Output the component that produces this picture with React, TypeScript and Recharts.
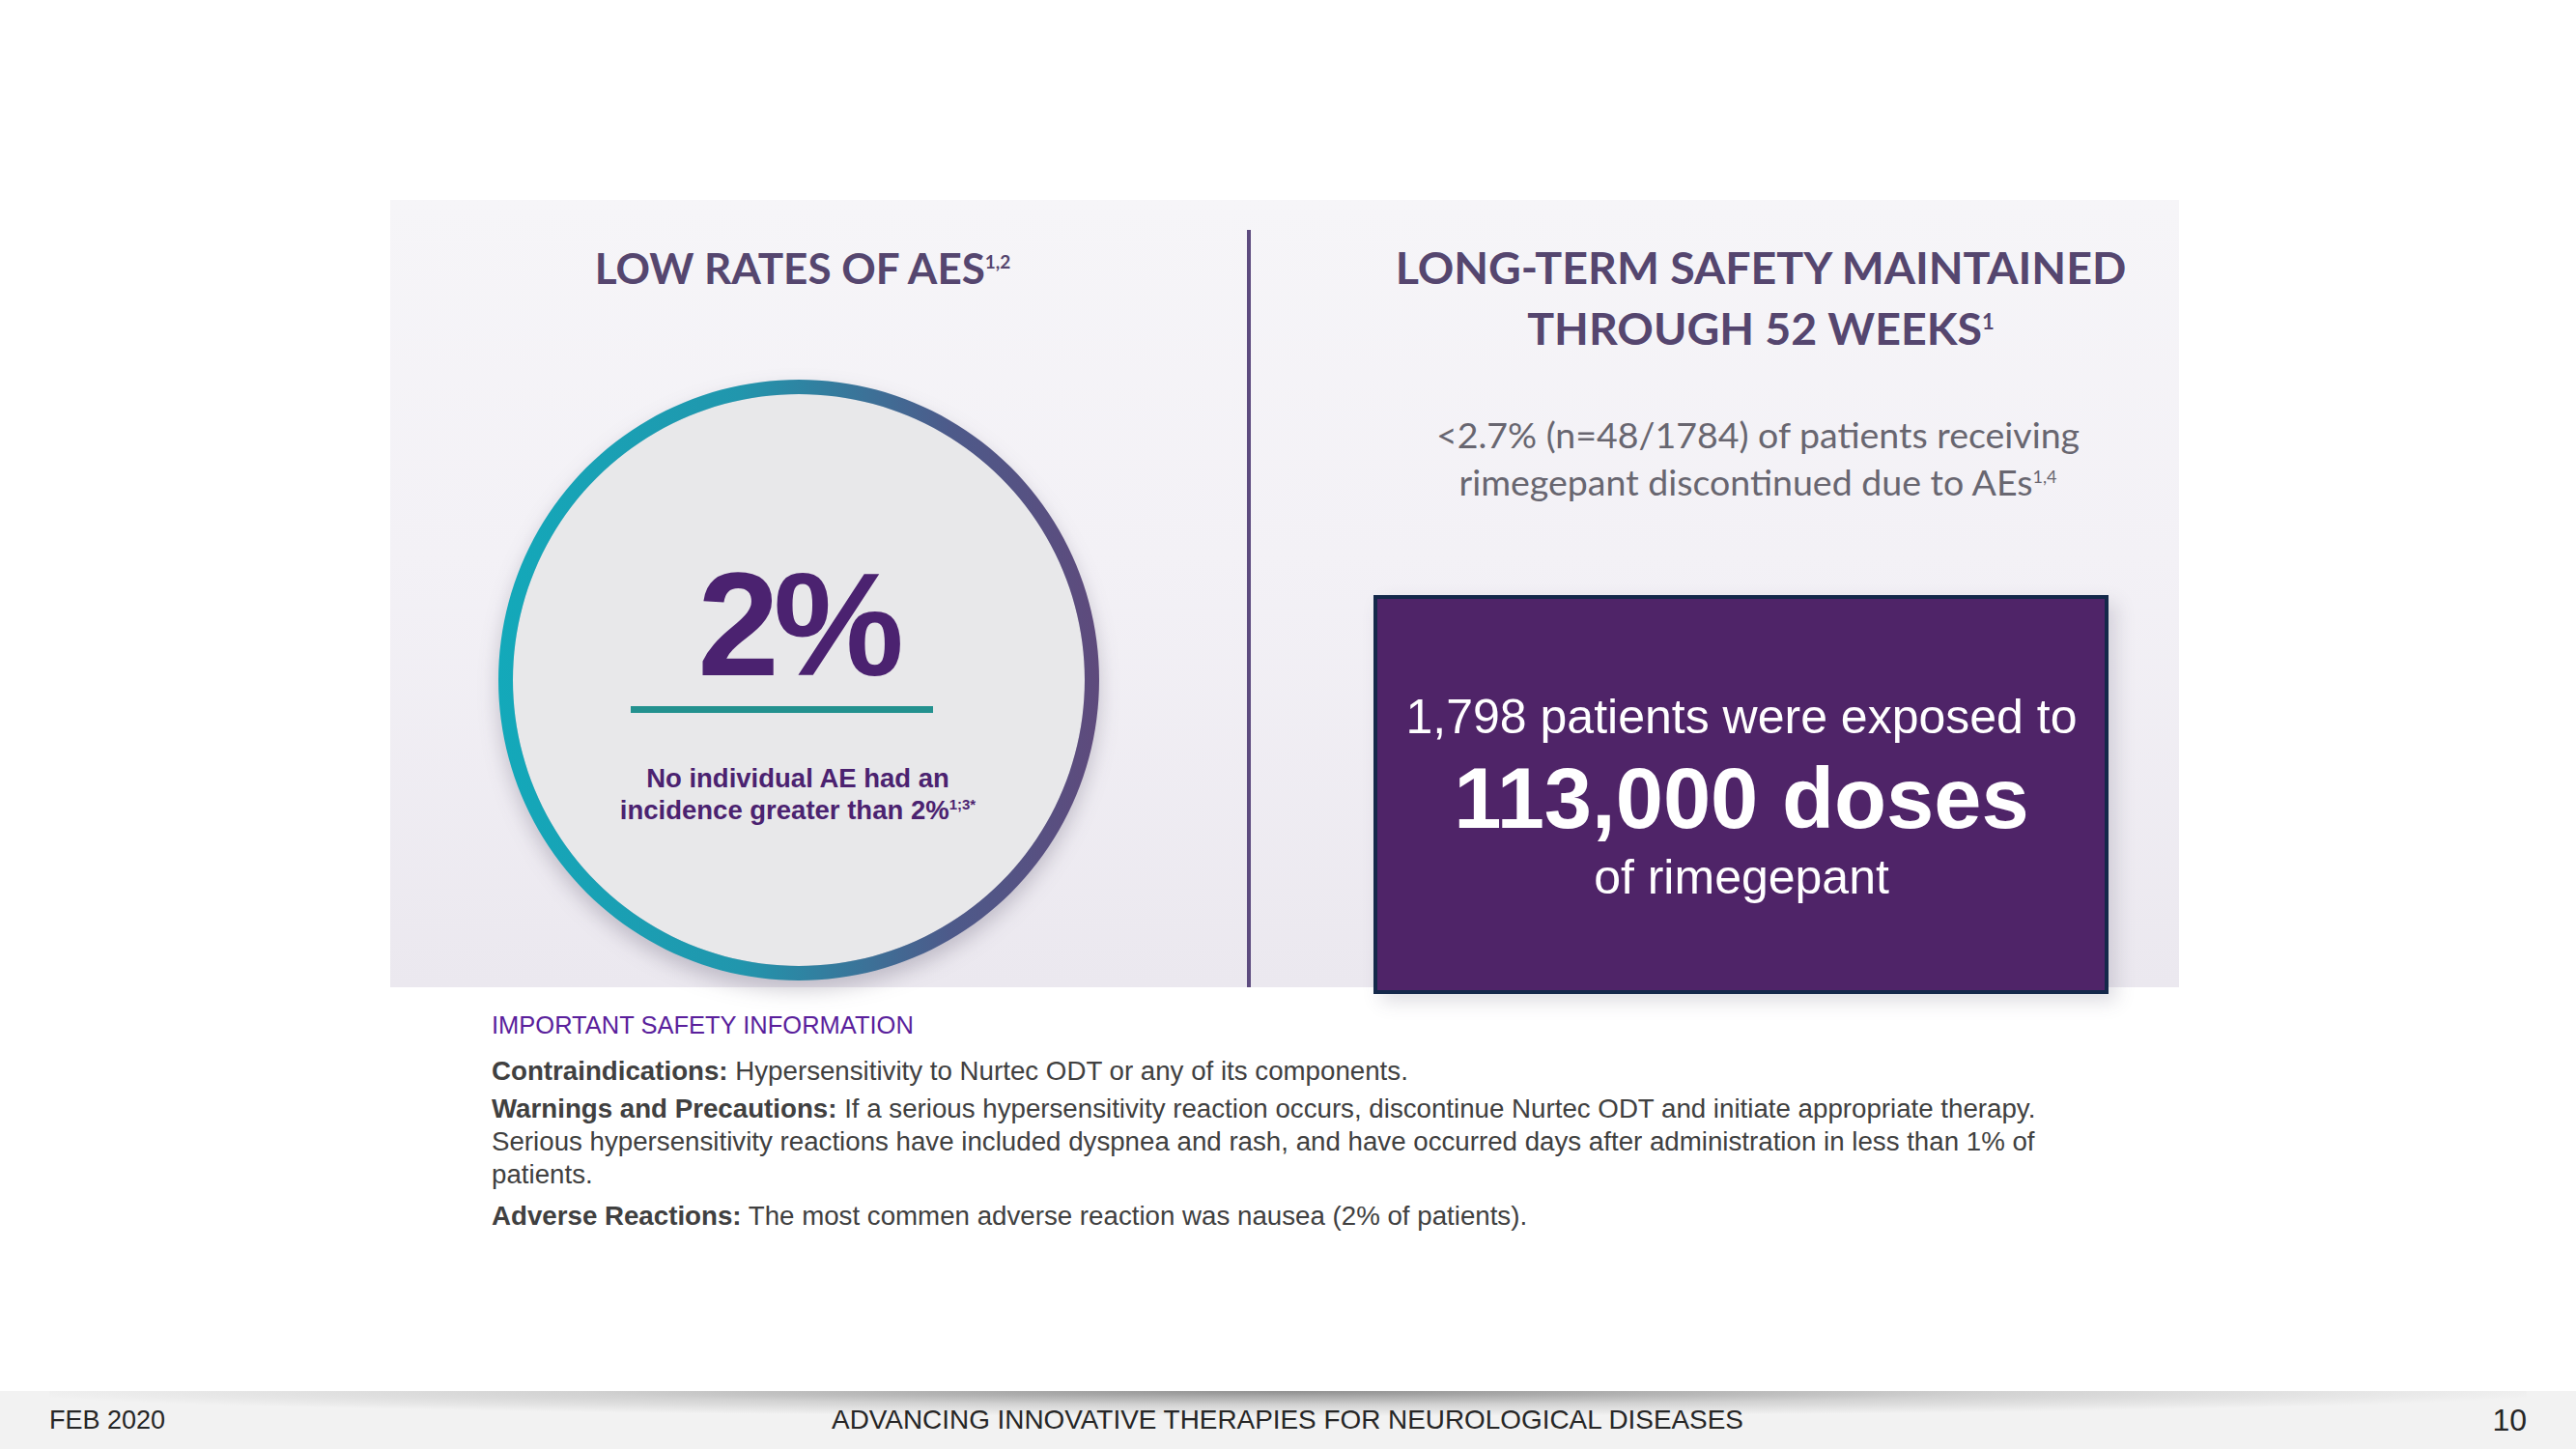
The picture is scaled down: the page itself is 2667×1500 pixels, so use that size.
import React from 'react';
import { PieChart, Pie, Cell } from 'recharts';

// ring around the headline figure: one full slice, drawn as an annulus
const ringSlices = [{ name: 'Patients', value: 100 }];
const discSlices = [{ name: 'Disc', value: 100 }];

const headlineValue = '2%';
const headlineNote = ['No individual AE had an', 'incidence greater than 2%'];
const leftTitle = 'LOW RATES OF AES';
const rightTitle = ['LONG-TERM SAFETY MAINTAINED', 'THROUGH 52 WEEKS'];
const rightSub = ['<2.7% (n=48/1784) of patients receiving', 'rimegepant discontinued due to AEs'];
const exposureLines = ['1,798 patients were exposed to', '113,000 doses', 'of rimegepant'];
const footer = ['FEB 2020', 'ADVANCING INNOVATIVE THERAPIES FOR NEUROLOGICAL DISEASES', '10'];

const PURPLE = '#4b2270';
const TITLE = '#55466f';
const ARIAL = '"Liberation Sans", Arial, sans-serif';
const LATO = 'Lato, "Open Sans", sans-serif';

const abs = (left: number, top: number, extra: React.CSSProperties = {}): React.CSSProperties => ({
  position: 'absolute',
  left,
  top,
  ...extra,
});

const Centered: React.FC<{ cx: number; cy: number; size: number; style?: React.CSSProperties; children: React.ReactNode }> = ({
  cx,
  cy,
  size,
  style,
  children,
}) => (
  <div
    style={{
      position: 'absolute',
      left: cx - 800,
      top: cy - size * 0.6,
      width: 1600,
      textAlign: 'center',
      fontSize: size,
      lineHeight: `${size * 1.2}px`,
      whiteSpace: 'nowrap',
      ...style,
    }}
  >
    {children}
  </div>
);

export default function App() {
  const sup = (s: string, size: number) => (
    <span style={{ fontSize: size, verticalAlign: 'super', lineHeight: 0 }}>{s}</span>
  );

  return (
    <div style={{ position: 'absolute', left: 0, top: 0, width: 2667, height: 1500, background: '#ffffff', overflow: 'hidden' }}>
      {/* light panel */}
      <div
        style={abs(404, 207, {
          width: 1852,
          height: 815,
          background: 'linear-gradient(180deg, #f6f5f8 0%, #f3f1f6 45%, #ebe8ef 100%)',
        })}
      />
      {/* divider */}
      <div style={abs(1291, 238, { width: 4, height: 784, background: '#5d4b7f' })} />

      {/* left title */}
      <Centered cx={831} cy={277} size={44} style={{ fontFamily: LATO, fontWeight: 700, color: TITLE }}>
        {leftTitle}
        {sup('1,2', 19)}
      </Centered>

      {/* ring */}
      <div style={abs(472, 349, { width: 700, height: 700, filter: 'drop-shadow(0px 10px 10px rgba(60,50,80,0.25))' })}>
        <PieChart width={700} height={700}>
          <defs>
            <linearGradient id="ringGrad" x1="0" y1="0.5" x2="1" y2="0.5">
              <stop offset="0%" stopColor="#13a9ba" />
              <stop offset="40%" stopColor="#2196ad" />
              <stop offset="75%" stopColor="#4d5a8a" />
              <stop offset="100%" stopColor="#5e4a7c" />
            </linearGradient>
          </defs>
          <Pie
            data={discSlices}
            dataKey="value"
            cx={350}
            cy={350}
            innerRadius={0}
            outerRadius={296}
            stroke="none"
            isAnimationActive={false}
          >
            {discSlices.map((d, i) => (
              <Cell key={`d-${i}`} fill="#e8e8ea" />
            ))}
          </Pie>
          <Pie
            data={ringSlices}
            dataKey="value"
            cx={350}
            cy={350}
            innerRadius={296}
            outerRadius={311}
            startAngle={90}
            endAngle={-270}
            stroke="none"
            isAnimationActive={false}
          >
            {ringSlices.map((d, i) => (
              <Cell key={`r-${i}`} fill="url(#ringGrad)" />
            ))}
          </Pie>
        </PieChart>
      </div>

      {/* headline figure */}
      <Centered cx={826} cy={646} size={152} style={{ fontFamily: ARIAL, fontWeight: 700, color: PURPLE, letterSpacing: -6 }}>
        {headlineValue}
      </Centered>
      <div style={abs(653, 731, { width: 313, height: 7, background: '#23918f' })} />
      <Centered cx={826} cy={805} size={27.5} style={{ fontFamily: ARIAL, fontWeight: 700, color: PURPLE }}>
        {headlineNote[0]}
      </Centered>
      <Centered cx={826} cy={838} size={27.5} style={{ fontFamily: ARIAL, fontWeight: 700, color: PURPLE }}>
        {headlineNote[1]}
        {sup('1;3*', 15)}
      </Centered>

      {/* right title */}
      <Centered cx={1823} cy={277} size={46.5} style={{ fontFamily: LATO, fontWeight: 700, color: TITLE }}>
        {rightTitle[0]}
      </Centered>
      <Centered cx={1823} cy={340} size={46.5} style={{ fontFamily: LATO, fontWeight: 700, color: TITLE }}>
        {rightTitle[1]}
        {sup('1', 22)}
      </Centered>
      <Centered cx={1820} cy={449} size={37.5} style={{ fontFamily: LATO, color: '#686670' }}>
        {rightSub[0]}
      </Centered>
      <Centered cx={1820} cy={498} size={37.5} style={{ fontFamily: LATO, color: '#686670' }}>
        {rightSub[1]}
        {sup('1,4', 18)}
      </Centered>

      {/* exposure box */}
      <div
        style={abs(1422, 616, {
          width: 761,
          height: 413,
          boxSizing: 'border-box',
          background: '#4f2468',
          border: '4px solid #14284a',
          boxShadow: '8px 8px 18px rgba(80,70,100,0.18)',
        })}
      />
      <Centered cx={1803} cy={742} size={50} style={{ fontFamily: ARIAL, color: '#ffffff' }}>
        {exposureLines[0]}
      </Centered>
      <Centered cx={1803} cy={827} size={88.5} style={{ fontFamily: ARIAL, fontWeight: 700, color: '#ffffff' }}>
        {exposureLines[1]}
      </Centered>
      <Centered cx={1803} cy={908} size={50} style={{ fontFamily: ARIAL, color: '#ffffff' }}>
        {exposureLines[2]}
      </Centered>

      {/* safety information */}
      <div style={abs(509, 1046, { fontFamily: ARIAL, fontSize: 25.5, lineHeight: '30px', color: '#5a1f9c', whiteSpace: 'nowrap' })}>
        IMPORTANT SAFETY INFORMATION
      </div>
      <div style={abs(509, 1092, { fontFamily: ARIAL, fontSize: 27.7, color: '#404040', whiteSpace: 'nowrap' })}>
        <div style={{ lineHeight: '34px', marginBottom: 5 }}>
          <b>Contraindications:</b> Hypersensitivity to Nurtec ODT or any of its components.
        </div>
        <div style={{ lineHeight: '34px' }}>
          <b>Warnings and Precautions:</b> If a serious hypersensitivity reaction occurs, discontinue Nurtec ODT and initiate appropriate therapy.
        </div>
        <div style={{ lineHeight: '34px' }}>
          Serious hypersensitivity reactions have included dyspnea and rash, and have occurred days after administration in less than 1% of
        </div>
        <div style={{ lineHeight: '34px', marginBottom: 9 }}>patients.</div>
        <div style={{ lineHeight: '34px' }}>
          <b>Adverse Reactions:</b> The most commen adverse reaction was nausea (2% of patients).
        </div>
      </div>

      {/* footer */}
      <div style={abs(0, 1440, { width: 2667, height: 60, background: '#f2f2f2' })} />
      <div
        style={abs(51, 1440, {
          width: 2565,
          height: 26,
          background: 'radial-gradient(ellipse 52% 100% at 50% 0%, rgba(110,110,110,0.75) 0%, rgba(170,170,170,0.45) 55%, rgba(242,242,242,0) 100%)',
        })}
      />
      <div style={abs(51, 1455, { fontFamily: ARIAL, fontSize: 27, lineHeight: '30px', color: '#262626' })}>{footer[0]}</div>
      <Centered cx={1333} cy={1470} size={27.9} style={{ fontFamily: ARIAL, color: '#262626' }}>
        {footer[1]}
      </Centered>
      <div style={abs(2516, 1452, { width: 100, textAlign: 'right', fontFamily: ARIAL, fontSize: 32, lineHeight: '36px', color: '#262626' })}>
        {footer[2]}
      </div>
    </div>
  );
}
